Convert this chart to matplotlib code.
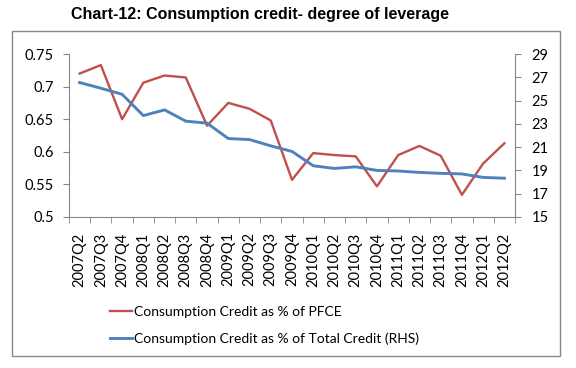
import matplotlib
matplotlib.use("Agg")
import matplotlib.pyplot as plt
from matplotlib.patches import Rectangle
from matplotlib.lines import Line2D

quarters = ["2007Q2", "2007Q3", "2007Q4", "2008Q1", "2008Q2", "2008Q3", "2008Q4",
            "2009Q1", "2009Q2", "2009Q3", "2009Q4", "2010Q1", "2010Q2", "2010Q3",
            "2010Q4", "2011Q1", "2011Q2", "2011Q3", "2011Q4", "2012Q1", "2012Q2"]
pfce = [0.720, 0.733, 0.650, 0.706, 0.717, 0.714, 0.640, 0.675, 0.666, 0.648,
        0.557, 0.598, 0.595, 0.593, 0.547, 0.595, 0.609, 0.594, 0.534, 0.582, 0.613]
total_credit = [26.55, 26.06, 25.54, 23.71, 24.2, 23.23, 23.06, 21.74, 21.65, 21.11,
                20.63, 19.4, 19.17, 19.31, 19.0, 18.95, 18.83, 18.75, 18.7, 18.4, 18.33]
left_ticks = [0.5, 0.55, 0.6, 0.65, 0.7, 0.75]
left_labels = ["0.5", "0.55", "0.6", "0.65", "0.7", "0.75"]
right_ticks = [15, 17, 19, 21, 23, 25, 27, 29]

RED = "#C0504D"
BLUE = "#4F81BD"
GRID = "#868686"
plt.rcParams['font.family'] = ['Lato', 'DejaVu Sans']

W, H = 576, 368
fig = plt.figure(figsize=(W/100, H/100), dpi=100)

# chart border
fig.patches.append(Rectangle((12/W, 1-356/H), (560-12)/W, (356-31)/H,
                             transform=fig.transFigure, fill=False,
                             edgecolor="#888888", linewidth=1.0))

fig.text(0.452, 1-14/H, "Chart-12: Consumption credit- degree of leverage",
         ha="center", va="center", fontsize=11.5, fontweight="bold",
         family=["Liberation Sans", "DejaVu Sans"])

ax = fig.add_axes([69/W, 1-217/H, (515-69)/W, (217-54)/H])
ax2 = ax.twinx()

x = list(range(len(quarters)))
l1, = ax.plot(x, pfce, color=RED, linewidth=1.7)
l2, = ax2.plot(x, total_credit, color=BLUE, linewidth=2.1)

ax.set_xlim(-0.5, len(quarters)-0.5)
ax.set_ylim(0.5, 0.75)
ax2.set_ylim(15, 29)

ax.set_yticks(left_ticks)
ax.set_yticklabels(left_labels, fontsize=10.5)
ax2.set_yticks(right_ticks)
ax2.set_yticklabels([str(t) for t in right_ticks], fontsize=10.5)

ax.set_xticks(x)
ax.set_xticklabels(quarters, rotation=90, fontsize=10.5)
ax.set_xticks([i - 0.5 for i in range(len(quarters)+1)], minor=True)
ax.tick_params(axis="x", which="major", length=0, pad=11)
ax.tick_params(axis="x", which="minor", length=4, color=GRID, direction="out")
ax.tick_params(axis="y", length=4, color=GRID, direction="out", pad=7)
ax2.tick_params(axis="y", length=4, color=GRID, direction="out", pad=8)

for a in (ax, ax2):
    a.spines["top"].set_visible(False)
    a.spines["left"].set_color(GRID)
    a.spines["right"].set_color(GRID)
    a.spines["bottom"].set_color(GRID)
ax.spines["right"].set_visible(False)
ax2.spines["left"].set_visible(False)
ax2.spines["bottom"].set_visible(False)

h1 = Line2D([], [], color=RED, linewidth=1.7)
h2 = Line2D([], [], color=BLUE, linewidth=2.1)
fig.legend([h1, h2], ["Consumption Credit as % of PFCE",
                      "Consumption Credit as % of Total Credit (RHS)"],
           loc="upper left", bbox_to_anchor=(110/W, 1-306/H), frameon=False,
           fontsize=10, handlelength=1.6, handletextpad=0.1, labelspacing=1.05,
           borderaxespad=0, borderpad=0)

fig.savefig("out.png", dpi=100)
